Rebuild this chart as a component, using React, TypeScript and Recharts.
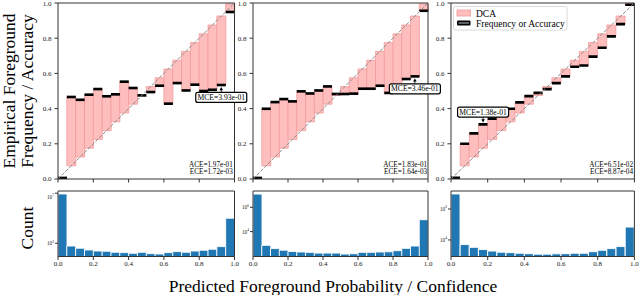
import React from "react";
import { ComposedChart, Bar, XAxis, YAxis, ReferenceLine, ReferenceDot } from "recharts";

const SERIF = '"Liberation Serif", "Times New Roman", serif';
const FRAME = "#333";

// 20 bins of width 0.05
const BIN_CENTERS = [0.025, 0.075, 0.125, 0.175, 0.225, 0.275, 0.325, 0.375, 0.425, 0.475, 0.525, 0.575, 0.625, 0.675, 0.725, 0.775, 0.825, 0.875, 0.925, 0.975];
// mean predicted probability per bin
const CONFIDENCE = [0.004, 0.075, 0.125, 0.175, 0.225, 0.275, 0.325, 0.375, 0.425, 0.475, 0.525, 0.575, 0.625, 0.675, 0.725, 0.775, 0.825, 0.875, 0.926, 0.995];

// empirical frequency per bin
const ACC_A = [0.006, 0.466, 0.45, 0.479, 0.511, 0.47, 0.481, 0.553, 0.517, 0.475, 0.494, 0.53, 0.428, 0.545, 0.503, 0.536, 0.5, 0.507, 0.534, 0.949];
const ACC_B = [0.006, 0.399, 0.437, 0.454, 0.441, 0.498, 0.486, 0.503, 0.526, 0.483, 0.483, 0.485, 0.513, 0.513, 0.53, 0.489, 0.5, 0.568, 0.583, 0.956];
const ACC_C = [0.006, 0.2, 0.259, 0.31, 0.343, 0.365, 0.399, 0.435, 0.471, 0.489, 0.511, 0.545, 0.583, 0.638, 0.645, 0.695, 0.746, 0.81, 0.88, 0.99];

// pixel counts per bin
const COUNT_A = [8700000, 600, 400, 290, 240, 230, 190, 178, 158, 190, 148, 138, 178, 214, 190, 240, 275, 331, 537, 100000];
const COUNT_B = [12300000, 741, 398, 295, 234, 209, 195, 170, 170, 170, 141, 151, 195, 195, 209, 219, 269, 417, 646, 95000];
const COUNT_C = [9330000, 5010, 3310, 2400, 1905, 1620, 1510, 1380, 1290, 1200, 1200, 1260, 1290, 1380, 1380, 1740, 2140, 2750, 3720, 67600];

const ACCURACY = [ACC_A, ACC_B, ACC_C];
const COUNTS = [COUNT_A, COUNT_B, COUNT_C];

const UNIT_TICKS = [0, 0.2, 0.4, 0.6, 0.8, 1];
const LOG_TICKS = [[1e3, 1e5, 1e7], [1e4, 1e6], [1e4, 1e6]];
const LOG_DOMAIN = [[87, 1.5e7], [89, 2.2e7], [850, 1.45e7]];

const MCE_BIN = [18, 18, 3];
const MCE_TEXT = ["MCE=3.93e-01", "MCE=3.46e-01", "MCE=1.38e-01"];
const ACE_TEXT = ["ACE=1.97e-01", "ACE=1.83e-01", "ACE=6.51e-02"];
const ECE_TEXT = ["ECE=1.72e-03", "ECE=1.64e-03", "ECE=8.87e-04"];

// layout
const LAYOUT = [
  { left: 57.5, width: 176.5, mceAbove: false },
  { left: 253.3, width: 175, mceAbove: false },
  { left: 450.8, width: 183.4, mceAbove: true },
];
const TOP_Y = 3;
const TOP_H = 176;
const HIST_Y = 191;
const HIST_H = 65.5;
const YW = 40;
const RM = 20;

const tickStyle = { fontSize: 7, fill: "#222", fontFamily: SERIF };

function mceShape(label: string, above: boolean) {
  return (props: any) => {
    const { cx, cy } = props;
    const dir = above ? -1 : 1;
    const w = 51;
    const h = 10;
    const boxCy = cy + dir * 12.4;
    const boxEdge = boxCy - (dir * h) / 2;
    const tip = cy + dir * 2;
    return (
      <g>
        <line x1={cx} y1={boxEdge} x2={cx} y2={tip + dir * 2} stroke="#000" strokeWidth={0.8} />
        <polygon points={`${cx - 1.8},${tip + dir * 3.2} ${cx + 1.8},${tip + dir * 3.2} ${cx},${tip}`} fill="#000" />
        <rect x={cx - w / 2} y={boxCy - h / 2} width={w} height={h} rx={2} fill="#fff" stroke="#000" strokeWidth={1.2} />
        <text x={cx} y={boxCy} dy="0.35em" textAnchor="middle" fontSize={7.6} fontFamily={SERIF} fill="#000">
          {label}
        </text>
      </g>
    );
  };
}

function LogTick(props: any) {
  const { x, y, payload } = props;
  const exp = Math.round(Math.log10(payload.value));
  return (
    <text x={x} y={y} dy={2} textAnchor="end" fontSize={5.2} fill="#222" fontFamily={SERIF}>
      10
      <tspan dy={-2.6} fontSize={3.6}>
        {exp}
      </tspan>
    </text>
  );
}

function Reliability({ i }: { i: number }) {
  const { left, width, mceAbove } = LAYOUT[i];
  const acc = ACCURACY[i];
  const rows = BIN_CENTERS.map((c, k) => ({
    center: c,
    gap: [Math.min(CONFIDENCE[k], acc[k]), Math.max(CONFIDENCE[k], acc[k])],
    freq: [acc[k] - 0.0075, acc[k] + 0.0075],
  }));
  const mb = MCE_BIN[i];
  return (
    <div style={{ position: "absolute", left: left - YW, top: 0 }}>
      <ComposedChart
        width={YW + width + RM}
        height={TOP_Y + TOP_H + 6}
        data={rows}
        margin={{ top: TOP_Y, right: RM, bottom: 0, left: 0 }}
        barCategoryGap={0}
        barGap={0}
      >
        <XAxis xAxisId="gap" dataKey="center" type="category" hide height={0} />
        <XAxis xAxisId="freq" dataKey="center" type="category" hide height={0} />
        <XAxis
          xAxisId="num"
          dataKey="center"
          type="number"
          domain={[0, 1]}
          ticks={UNIT_TICKS}
          allowDataOverflow
          height={6}
          tickSize={3.5}
          tickFormatter={() => ""}
          stroke={FRAME}
        />
        <YAxis
          type="number"
          domain={[0, 1]}
          ticks={UNIT_TICKS}
          allowDataOverflow
          width={YW}
          tickSize={3.5}
          tickMargin={3}
          tickFormatter={(v: number) => v.toFixed(1)}
          tick={tickStyle}
          stroke={FRAME}
        />
        <Bar xAxisId="gap" dataKey="gap" fill="#ffbebe" stroke="#f49a9a" strokeWidth={0.8} isAnimationActive={false} />
        <ReferenceLine xAxisId="num" segment={[{ x: 0, y: 0 }, { x: 1, y: 1 }]} stroke="#8a8a8a" strokeDasharray="3.7 1.6" />
        <Bar xAxisId="freq" dataKey="freq" fill="#000" isAnimationActive={false} />
        <ReferenceLine xAxisId="num" x={1} stroke={FRAME} />
        <ReferenceLine xAxisId="num" y={1} stroke={FRAME} />
        <ReferenceDot xAxisId="num" x={BIN_CENTERS[mb]} y={acc[mb]} r={0} shape={mceShape(MCE_TEXT[i], mceAbove)} />
      </ComposedChart>
    </div>
  );
}

function Histogram({ i }: { i: number }) {
  const { left, width } = LAYOUT[i];
  const counts = COUNTS[i];
  const rows = BIN_CENTERS.map((c, k) => ({ center: c, count: counts[k] }));
  const dom = LOG_DOMAIN[i];
  return (
    <div style={{ position: "absolute", left: left - YW, top: HIST_Y - 3 }}>
      <ComposedChart
        width={YW + width + RM}
        height={3 + HIST_H + 14}
        data={rows}
        margin={{ top: 3, right: RM, bottom: 0, left: 0 }}
        barCategoryGap={0}
        barGap={0}
      >
        <XAxis xAxisId="cat" dataKey="center" type="category" hide height={0} />
        <XAxis
          xAxisId="num"
          dataKey="center"
          type="number"
          domain={[0, 1]}
          ticks={UNIT_TICKS}
          allowDataOverflow
          height={14}
          tickSize={3.5}
          tickMargin={1.5}
          tickFormatter={(v: number) => v.toFixed(1)}
          tick={tickStyle}
          stroke={FRAME}
        />
        <YAxis
          type="number"
          scale="log"
          domain={dom}
          ticks={LOG_TICKS[i]}
          allowDataOverflow
          width={YW}
          tickSize={3}
          tickMargin={1}
          tick={(p: any) => <LogTick {...p} />}
          stroke={FRAME}
        />
        <Bar xAxisId="cat" dataKey="count" fill="#1f77b4" stroke="#fff" strokeWidth={0.9} isAnimationActive={false} />
        <ReferenceLine xAxisId="num" x={1} stroke={FRAME} />
        <ReferenceLine xAxisId="num" y={dom[1]} stroke={FRAME} />
      </ComposedChart>
    </div>
  );
}

function Overlay() {
  return (
    <svg width={640} height={295} style={{ position: "absolute", left: 0, top: 0, pointerEvents: "none" }} fontFamily={SERIF}>
      <text transform="translate(14.5,91) rotate(-90)" textAnchor="middle" fontSize={17.5} fill="#000">
        Empirical Foreground
      </text>
      <text transform="translate(32.5,91) rotate(-90)" textAnchor="middle" fontSize={17.5} fill="#000">
        Frequency / Accuracy
      </text>
      <text transform="translate(32.5,228) rotate(-90)" textAnchor="middle" fontSize={17.5} fill="#000">
        Count
      </text>
      <text x={333} y={291.5} textAnchor="middle" fontSize={17.5} fill="#000">
        Predicted Foreground Probability / Confidence
      </text>
      {LAYOUT.map((l, i) => (
        <g key={i}>
          <text x={l.left + l.width - 1.2} y={167} textAnchor="end" fontSize={7.2} fill="#000">
            {ACE_TEXT[i]}
          </text>
          <text x={l.left + l.width - 1.2} y={174.2} textAnchor="end" fontSize={7.2} fill="#000">
            {ECE_TEXT[i]}
          </text>
        </g>
      ))}
      <g>
        <rect x={453.5} y={6.5} width={113.5} height={23.5} rx={2} fill="#fff" fillOpacity={0.85} stroke="#d0d0d0" strokeWidth={0.8} />
        <rect x={457} y={10} width={13.5} height={6} fill="#ffbebe" stroke="#f49a9a" strokeWidth={0.8} />
        <text x={476} y={16.5} fontSize={9.5} fill="#000">DCA</text>
        <rect x={457} y={20.5} width={13.5} height={5} rx={1} fill="#000" />
        <line x1={458.5} y1={23} x2={469} y2={23} stroke="#bbb" strokeWidth={1} />
        <text x={476} y={26.5} fontSize={9.5} fill="#000">Frequency or Accuracy</text>
      </g>
    </svg>
  );
}

export default function App() {
  return (
    <div style={{ position: "absolute", left: 0, top: 0, width: 640, height: 295, background: "#fff" }}>
      {[0, 1, 2].map((i) => (
        <Reliability key={`r${i}`} i={i} />
      ))}
      {[0, 1, 2].map((i) => (
        <Histogram key={`h${i}`} i={i} />
      ))}
      <Overlay />
    </div>
  );
}
